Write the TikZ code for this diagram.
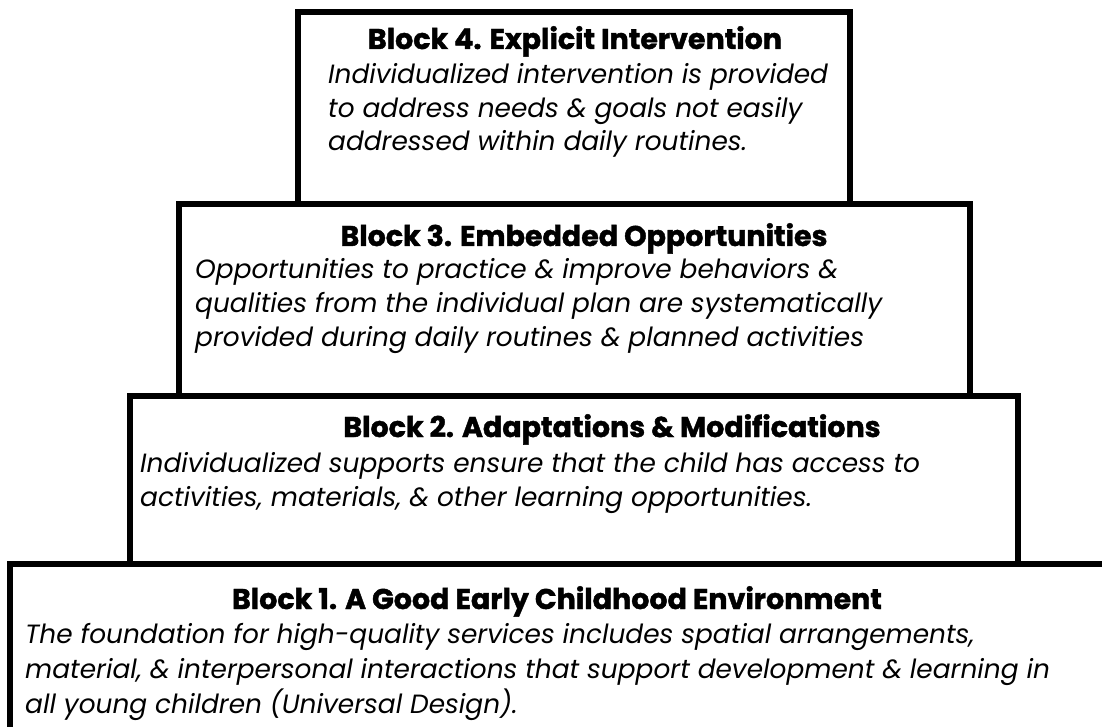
\documentclass[tikz,border=0pt]{standalone}
\usepackage{fontspec}
\newfontfamily\headfont{Poppins}[FakeBold=1.5]
\newfontfamily\bodyfont{Poppins}
\tikzset{
  blockbox/.style={draw=black, line width=6pt, fill=white},
  headtext/.style={anchor=base, inner sep=0pt, font=\headfont\bfseries\fontsize{28.5}{32}\selectfont},
  bodytext/.style={anchor=base west, inner sep=0pt, font=\bodyfont\itshape\fontsize{26.4}{30}\selectfont},
}
\begin{document}
\begin{tikzpicture}[x=1pt,y=-1pt]
\clip (0,0) rectangle (1102,727);
\fill[white] (0,0) rectangle (1102,727);
% boxes
\draw[blockbox] (298,12) rectangle (850,204);
\draw[blockbox] (178.5,204) rectangle (970,396);
\draw[blockbox] (130,396) rectangle (1018,564);
\draw[blockbox] (10,564) rectangle (1130,760);
% block 4
\node[headtext] (h4) at (575,49) {Block 4. Explicit Intervention};
\node[bodytext] (b4a) at (328,84) {Individualized intervention is provided};
\node[bodytext] (b4b) at (328,118) {to address needs \& goals not easily};
\node[bodytext] (b4c) at (328,151) {addressed within daily routines.};
% block 3
\node[headtext] (h3) at (584,246) {Block 3. Embedded Opportunities};
\node[bodytext] (b3a) at (195,278) {Opportunities to practice \& improve behaviors \&};
\node[bodytext] (b3b) at (195,312) {qualities from the individual plan are systematically};
\node[bodytext] (b3c) at (195,346) {provided during daily routines \& planned activities};
% block 2
\node[headtext] (h2) at (612,437) {Block 2. Adaptations \& Modifications};
\node[bodytext] (b2a) at (140,472) {Individualized supports ensure that the child has access to};
\node[bodytext] (b2b) at (140,506) {activities, materials, \& other learning opportunities.};
% block 1
\node[headtext] (h1) at (557,609) {Block 1. A Good Early Childhood Environment};
\node[bodytext] (b1a) at (25,643) {The foundation for high-quality services includes spatial arrangements,};
\node[bodytext] (b1b) at (25,678) {material, \& interpersonal interactions that support development \& learning in};
\node[bodytext] (b1c) at (25,713) {all young children (Universal Design).};
\end{tikzpicture}
\end{document}
